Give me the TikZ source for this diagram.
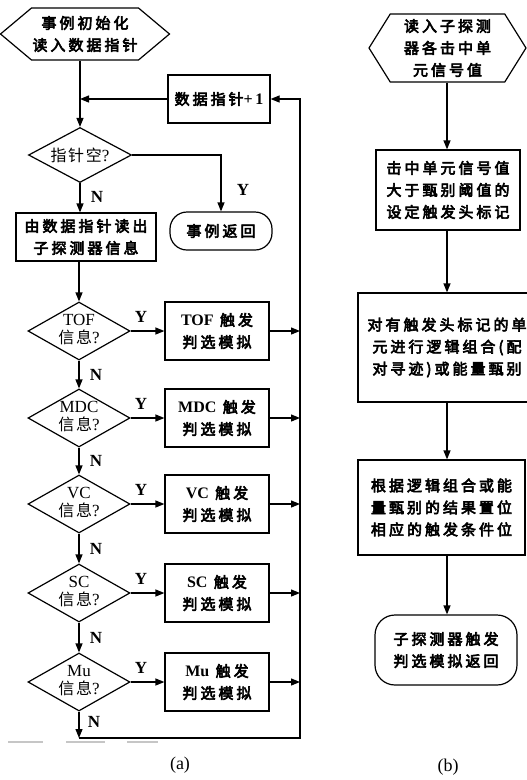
\documentclass[tikz,border=0pt]{standalone}
\usepackage{fontspec}
\setmainfont{Liberation Serif}
\newfontfamily\cjk[FakeBold=4,LetterSpace=20]{Noto Sans CJK SC}
\newfontfamily\cjkl[LetterSpace=10]{Noto Sans CJK SC}
\usetikzlibrary{arrows.meta,shapes.geometric,shapes.symbols,calc}
\newcommand{\lat}[1]{{\fontsize{16}{22}\selectfont\rmfamily\bfseries #1}}
\newcommand{\latl}[1]{{\fontsize{17}{18}\selectfont\rmfamily #1}}
\tikzset{
  ln/.style={line width=1.2pt},
  arr/.style={ln,-{Triangle[length=9pt,width=7pt]}},
  base/.style={draw,ln,fill=white,align=center,inner sep=1pt,
    font=\fontsize{15}{22}\selectfont\cjk},
  proc/.style={base,rectangle},
  term/.style={base,rectangle,rounded corners=16pt},
  hexa/.style={base,signal,signal to=west and east},
  dec/.style={draw,ln,fill=white,diamond,inner sep=0pt},
  dtext/.style={align=center,inner sep=0pt,font=\fontsize{16}{18}\selectfont\cjkl},
  yn/.style={inner sep=0pt,font=\fontsize{17}{17}\selectfont\bfseries},
  captext/.style={inner sep=0pt,font=\fontsize{18}{18}\selectfont},
}
\begin{document}
\begin{tikzpicture}[x=1pt,y=-1pt]
\useasboundingbox (0,0) rectangle (527,780);
\fill[white] (0,0) rectangle (527,780);

% ---------- (a) ----------
\node[hexa,signal pointer angle=80,minimum width=147pt,minimum height=52pt] (start) at (85,34) {事例初始化\\读入数据指针};
\node[proc,minimum width=102pt,minimum height=48pt] (inc) at (219,99) {数据指针\lat{+\,1}};
\node[dec,minimum width=103pt,minimum height=55pt] (d0) at (80,155) {};
\node[dtext] (d0t) at (d0) {指针空\latl{?}};
\node[term,minimum width=102pt,minimum height=38pt,rounded corners=17pt] (ret) at (221,231) {事例返回};
\node[proc,minimum width=140pt,minimum height=48pt] (read) at (86,237) {由数据指针读出\\子探测器信息};

\coordinate (j) at (80,99);
\coordinate (loopx) at (300,0);

\foreach \n/\nm/\y in {1/TOF/331,2/MDC/418,3/VC/504,4/SC/593,5/Mu/682}{
  \node[dec,minimum width=102pt,minimum height=58pt] (d\n) at (79,\y) {};
  \node[dtext] (d\n t) at (79,\y-1) {\latl{\nm}\\信息\latl{?}};
  \node[proc,minimum width=104pt,minimum height=58pt] (b\n) at (217,\y) {\lat{\nm} 触发\\判选模拟};
  \draw[arr] (d\n.east) -- (b\n.west);
  \node[yn] (y\n) at (141,\y-14) {Y};
  \draw[arr] (b\n.east) -- (b\n.east -| loopx);
}
\foreach \a/\b in {1/2,2/3,3/4,4/5}{
  \draw[arr] (d\a.south) -- (d\b.north);
  \node[yn] (n\a) at ($(d\a.south)!0.5!(d\b.north)+(17,0)$) {N};
}

\draw[ln] (start.south -| j) -- (j);
\draw[arr] (j) -- (d0.north);
\draw[arr] (inc.west) -- (j);
\draw[arr] (d0.east) -| (ret.north);
\node[yn] (y0) at (243,190) {Y};
\draw[arr] (d0.south) -- (d0.south |- read.north);
\node[yn] (n0) at (97,197) {N};
\draw[arr] (read.south -| d1.north) -- (d1.north);

\coordinate (bl) at (79,738);
\coordinate (br) at (300,738);
\draw[arr] (d5.south) -- (bl);
\node[yn] (n5) at (94,722) {N};
\draw[arr] (bl) -- (br) -- (br |- inc.east) -- (inc.east);

\draw[gray!45,line width=1.2pt] (8,742) -- (43,742) (66,742) -- (105,742) (127,742) -- (158,742);
\node[captext] (capa) at (180,765) {(a)};

% ---------- (b) ----------
\node[hexa,signal pointer angle=116,minimum width=157pt,minimum height=68pt] (rs) at (447.5,48) {读入子探测\\器各击中单\\元信号值};
\node[proc,minimum width=144pt,minimum height=80pt] (r1) at (448,190) {击中单元信号值\\大于甄别阈值的\\设定触发头标记};
\node[proc,minimum width=178pt,minimum height=109pt] (r2) at (447,347.5) {对有触发头标记的单\\元进行逻辑组合(配\\对寻迹)或能量甄别};
\node[proc,minimum width=167pt,minimum height=95pt] (r3) at (441.5,507.5) {根据逻辑组合或能\\量甄别的结果置位\\相应的触发条件位};
\node[term,minimum width=142pt,minimum height=70pt,rounded corners=20pt] (r4) at (446,650) {子探测器触发\\判选模拟返回};
\coordinate (rx) at (447,0);
\draw[arr] (rs.south -| rx) -- (r1.north -| rx);
\draw[arr] (r1.south -| rx) -- (r2.north -| rx);
\draw[arr] (r2.south -| rx) -- (r3.north -| rx);
\draw[arr] (r3.south -| rx) -- (r4.north -| rx);
\node[captext] (capb) at (448,767) {(b)};
\end{tikzpicture}
\end{document}
